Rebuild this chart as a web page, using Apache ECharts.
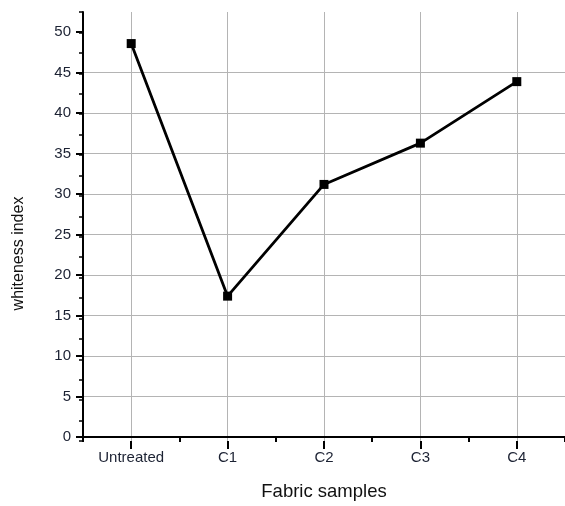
<!DOCTYPE html>
<html>
<head>
<meta charset="utf-8">
<script src="https://cdn.jsdelivr.net/npm/echarts@6/dist/echarts.min.js"></script>
<style>
  html, body { margin: 0; padding: 0; background: #fff; }
  #main { width: 565px; height: 506px; }
</style>
</head>
<body>
<div id="main"></div>
<script>
// fabric samples and their whiteness index
var samples = ['Untreated', 'C1', 'C2', 'C3', 'C4'];
var whiteness = [48.6, 17.4, 31.2, 36.3, 43.9];
var yMajor = [0, 5, 10, 15, 20, 25, 30, 35, 40, 45, 50];
// half steps, used only for the grid lines / ticks at sample centres
var halfSteps = ['0', '1', '2', '3', '4', '5', '6', '7', '8', '9', '10'];

var chart = echarts.init(document.getElementById('main'));

var font = 'Liberation Sans, Arial, sans-serif';
var rect = { left: 83, top: 12, width: 485, bottom: 65 };

var option = {
  animation: false,
  backgroundColor: '#fff',
  grid: [
    Object.assign({}, rect),
    Object.assign({}, rect)
  ],
  xAxis: [
    {
      type: 'category',
      gridIndex: 0,
      data: samples,
      boundaryGap: true,
      name: 'Fabric samples',
      nameLocation: 'middle',
      nameGap: 45,
      nameTextStyle: { fontFamily: font, fontSize: 18.5, color: '#111' },
      axisLine: { lineStyle: { color: '#000', width: 2 } },
      axisTick: { show: true, length: 5, lineStyle: { color: '#000', width: 2 } },
      axisLabel: { fontFamily: font, fontSize: 15, color: '#1c2233', margin: 13 },
      splitLine: { show: false }
    },
    {
      type: 'category',
      gridIndex: 1,
      data: halfSteps,
      boundaryGap: false,
      axisLine: { show: false },
      axisTick: {
        show: true, length: 8,
        interval: function (i) { return i % 2 === 1; },
        lineStyle: { color: '#000', width: 2 }
      },
      axisLabel: { show: false },
      splitLine: {
        show: true,
        interval: function (i) { return i % 2 === 1; },
        lineStyle: { color: '#b4b4b4', width: 1 }
      }
    }
  ],
  yAxis: [
    {
      type: 'value',
      gridIndex: 0,
      min: 0,
      max: 52.5,
      interval: 5,
      name: 'whiteness index',
      nameLocation: 'middle',
      nameGap: 56,
      nameRotate: 90,
      nameTextStyle: { fontFamily: font, fontSize: 16, color: '#111', padding: [0, 58, 0, 0] },
      axisLine: { show: true, lineStyle: { color: '#000', width: 2 } },
      axisTick: { show: true, length: 7, customValues: yMajor, lineStyle: { color: '#000', width: 2 } },
      axisLabel: { fontFamily: font, fontSize: 15, color: '#1c2233', margin: 12, showMaxLabel: false },
      splitLine: { show: true, showMaxLine: false, lineStyle: { color: '#b4b4b4', width: 1 } }
    },
    {
      type: 'value',
      gridIndex: 1,
      min: 0,
      max: 52.5,
      interval: 2.5,
      axisLine: { show: false },
      axisTick: { show: true, length: 4, lineStyle: { color: '#000', width: 1.5 } },
      axisLabel: { show: false },
      splitLine: { show: false }
    }
  ],
  series: [
    {
      type: 'line',
      xAxisIndex: 0,
      yAxisIndex: 0,
      data: whiteness,
      symbol: 'rect',
      symbolSize: 9,
      lineStyle: { color: '#000', width: 2.8 },
      itemStyle: { color: '#000' },
      z: 5
    }
  ]
};

chart.setOption(option);
</script>
</body>
</html>
